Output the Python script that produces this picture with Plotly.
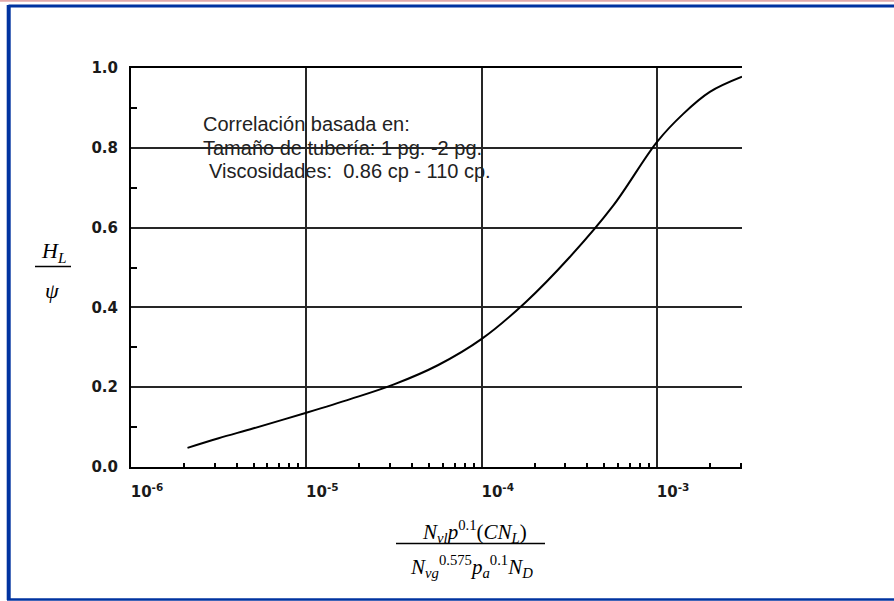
import plotly.graph_objects as go
import math

# ---- data ----
x_vals = [2.1e-6, 3.16e-6, 5e-6, 1e-5, 1.78e-5, 3.16e-5, 5.62e-5, 1e-4, 1.78e-4, 3.16e-4, 5.62e-4, 1e-3, 1.41e-3, 2.0e-3, 3.05e-3]
y_vals = [0.048, 0.072, 0.097, 0.136, 0.170, 0.207, 0.255, 0.321, 0.413, 0.525, 0.655, 0.815, 0.885, 0.940, 0.978]

x_major = [1e-6, 1e-5, 1e-4, 1e-3]
x_major_text = ["10<sup>-6</sup>", "10<sup>-5</sup>", "10<sup>-4</sup>", "10<sup>-3</sup>"]
x_minor = [m * d for d in [1e-6, 1e-5, 1e-4] for m in range(2, 10)] + [2e-3, 3e-3]
y_major = [0.0, 0.2, 0.4, 0.6, 0.8, 1.0]
y_major_text = ["0.0", "0.2", "0.4", "0.6", "0.8", "1.0"]
y_minor = [0.1, 0.3, 0.5, 0.7, 0.9]

note_lines = ["Correlación basada en:", "Tamaño de tubería: 1 pg. -2 pg.", "Viscosidades:\u00a0 0.86 cp - 110 cp."]

W, H = 894, 601
L, R, T, B = 131, 742, 68, 467


def px(X):
    return (X - L) / (R - L)


def py(Y):
    return (B - Y) / (B - T)


fig = go.Figure()
fig.add_trace(go.Scatter(x=x_vals, y=y_vals, mode="lines",
                         line=dict(color="black", width=2, shape="spline", smoothing=1.0),
                         showlegend=False, hoverinfo="skip"))

grid_col = "#262626"

fig.update_layout(
    width=W, height=H,
    margin=dict(l=L, r=W - R, t=T, b=H - B, pad=0),
    paper_bgcolor="white", plot_bgcolor="white",
    xaxis=dict(type="log", range=[-6, math.log10(3.05e-3)],
               tickmode="array", tickvals=x_major, ticktext=x_major_text,
               ticks="", showgrid=True, gridcolor=grid_col, gridwidth=2,
               showline=True, linecolor="black", linewidth=2, mirror=True,
               zeroline=False,
               tickfont=dict(family="DejaVu Sans", size=15, color="#1a1a1a", weight="bold"),
               ticklabelshift=16, ticklabelstandoff=10,
               minor=dict(tickmode="array", tickvals=x_minor, ticks="inside",
                          ticklen=4, tickwidth=2, tickcolor="black", showgrid=False)),
    yaxis=dict(range=[0, 1.0], tickmode="array", tickvals=y_major, ticktext=y_major_text,
               ticks="", showgrid=True, gridcolor=grid_col, gridwidth=2,
               showline=True, linecolor="black", linewidth=2, mirror=False,
               zeroline=False,
               tickfont=dict(family="DejaVu Sans", size=15, color="#1a1a1a", weight="bold"),
               ticklabelstandoff=8,
               minor=dict(tickmode="array", tickvals=y_minor, ticks="inside",
                          ticklen=6, tickwidth=2, tickcolor="black", showgrid=False)),
)

# annotations (text notes)
note_pos = [(200.5, 124), (200.5, 148), (206.5, 171)]
for txt, (X, Y) in zip(note_lines, note_pos):
    fig.add_annotation(text=txt, xref="paper", yref="paper", x=px(X), y=py(Y),
                       xanchor="left", yanchor="middle", showarrow=False,
                       font=dict(family="Liberation Sans", size=20, color="#222"))

serif = dict(family="Liberation Serif", size=21, color="black")
# y label
fig.add_annotation(text="<i>H</i><sub><i>L</i></sub>", xref="paper", yref="paper",
                   x=px(53), y=py(252), xanchor="center", yanchor="middle",
                   showarrow=False, font=dict(family="Liberation Serif", size=22, color="black"))
fig.add_annotation(text="<i>ψ</i>", xref="paper", yref="paper",
                   x=px(52), y=py(290), xanchor="center", yanchor="middle",
                   showarrow=False, font=dict(family="Liberation Serif", size=22, color="black"))
fig.add_shape(type="line", xref="paper", yref="paper", x0=px(35), x1=px(71),
              y0=py(266.5), y1=py(266.5), line=dict(color="black", width=1.5))
# x label
fig.add_annotation(text="<i>N</i><sub><i>vl</i></sub><i>p</i><sup>0.1</sup>(<i>CN</i><sub><i>L</i></sub>)",
                   xref="paper", yref="paper", x=px(474), y=py(531), xanchor="center",
                   yanchor="middle", showarrow=False, font=serif)
fig.add_annotation(text="<i>N</i><sub><i>vg</i></sub><sup>0.575</sup><i>p</i><sub><i>a</i></sub><sup>0.1</sup><i>N</i><sub><i>D</i></sub>",
                   xref="paper", yref="paper", x=px(471), y=py(566), xanchor="center",
                   yanchor="middle", showarrow=False, font=serif)
fig.add_shape(type="line", xref="paper", yref="paper", x0=px(396), x1=px(545),
              y0=py(543.5), y1=py(543.5), line=dict(color="black", width=1.5))

# frame (blue border) and top pink line
blue = "#0033a0"
fig.add_shape(type="line", xref="paper", yref="paper", x0=px(0), x1=px(900),
              y0=py(0.8), y1=py(0.8), line=dict(color="#e2a9a9", width=2))
fig.add_shape(type="line", xref="paper", yref="paper", x0=px(8.5), x1=px(900),
              y0=py(6), y1=py(6), line=dict(color=blue, width=3))
fig.add_shape(type="line", xref="paper", yref="paper", x0=px(8.7), x1=px(8.7),
              y0=py(5), y1=py(600), line=dict(color=blue, width=4))
fig.add_shape(type="line", xref="paper", yref="paper", x0=px(7), x1=px(900),
              y0=py(599.5), y1=py(599.5), line=dict(color=blue, width=2.5))

fig.write_html("out.html")
